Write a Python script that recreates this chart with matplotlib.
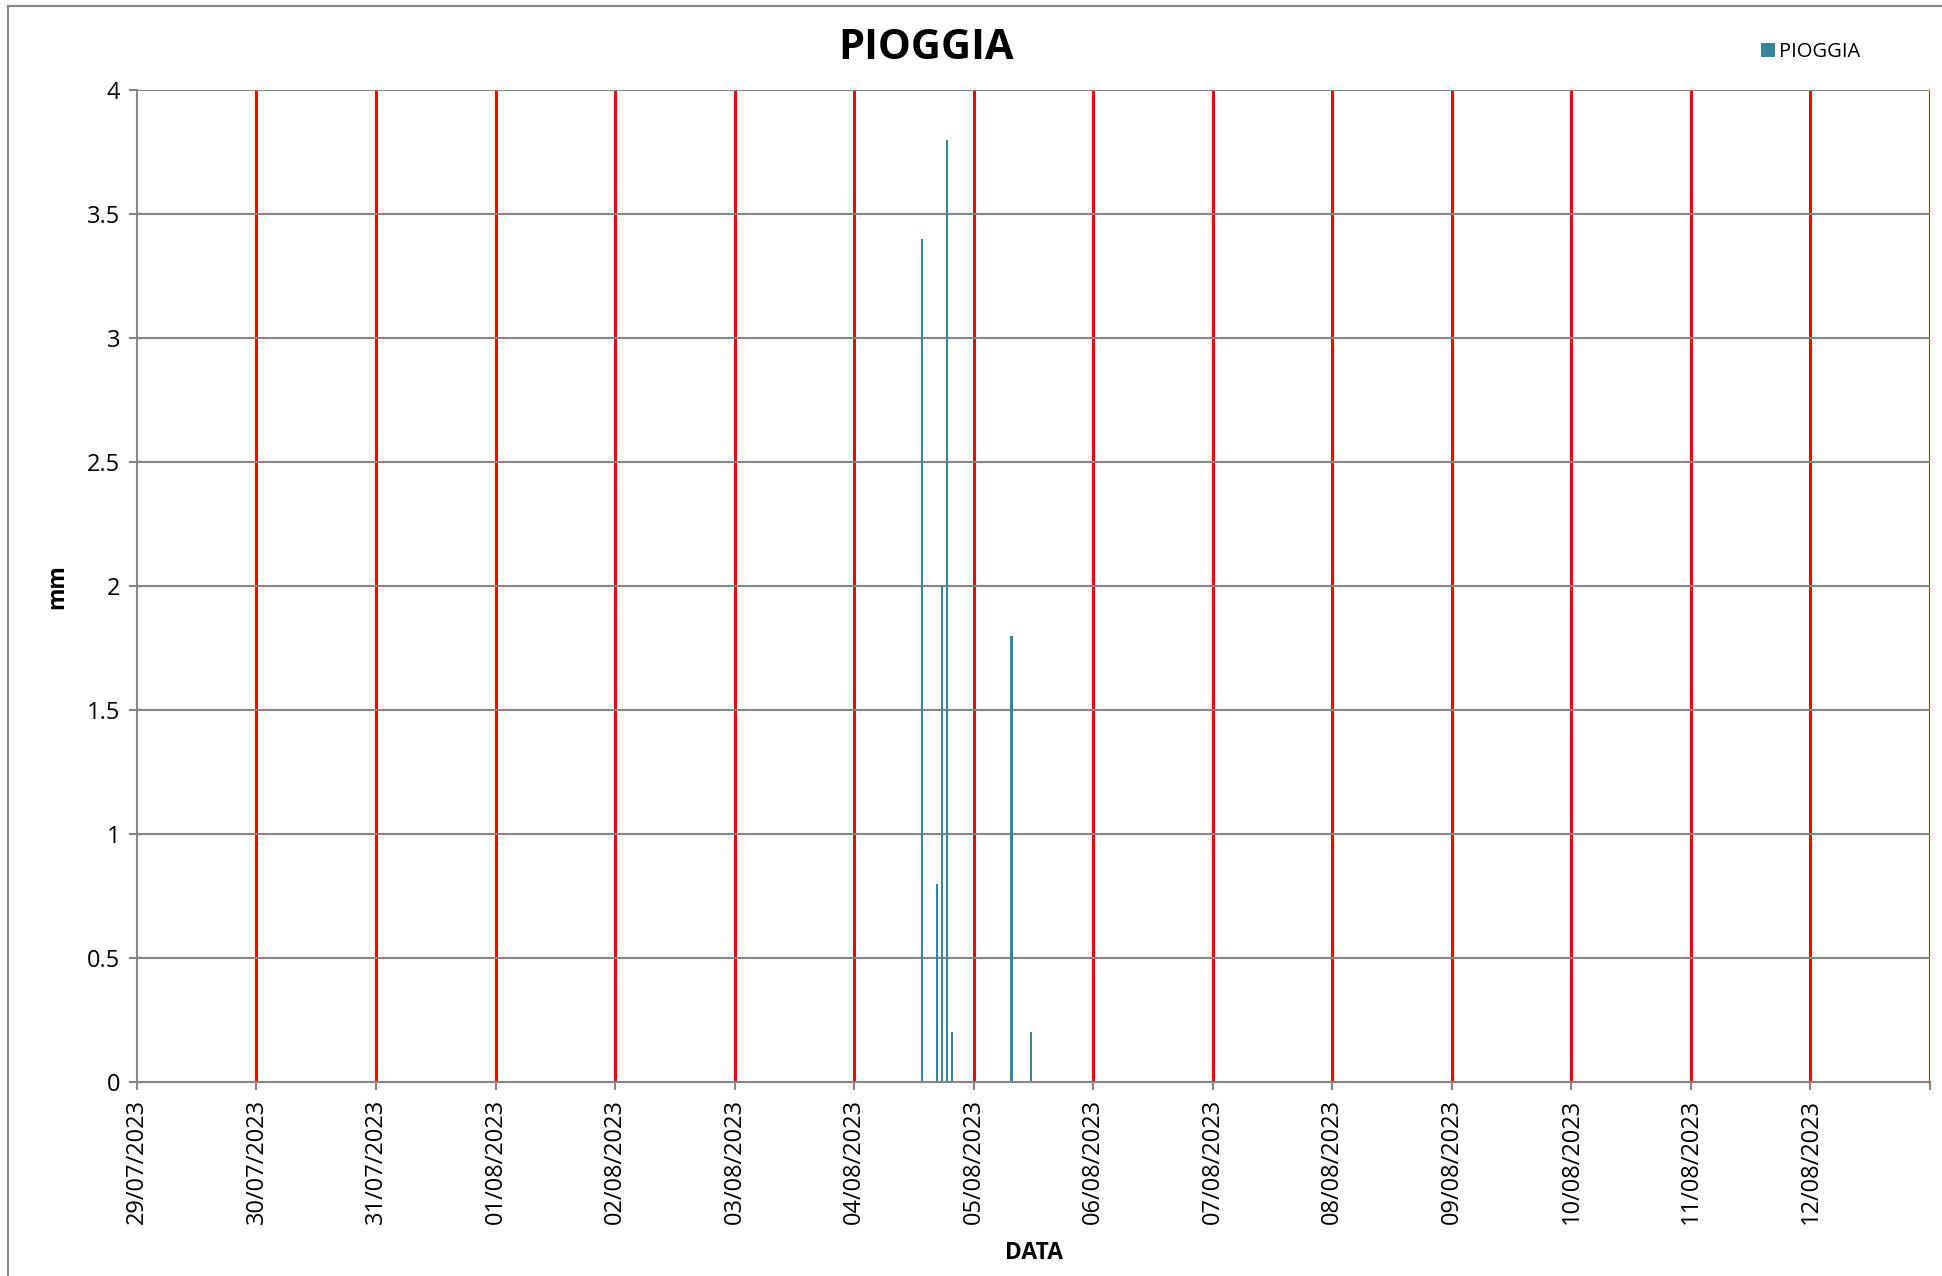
import pandas as pd
import matplotlib
matplotlib.use('Agg')
import matplotlib.pyplot as plt
from matplotlib.lines import Line2D

plt.rcParams['font.family'] = ['Open Sans', 'DejaVu Sans']

# rain readings (mm)
times = ['2023-08-04 13:35', '2023-08-04 16:35', '2023-08-04 17:35', '2023-08-04 18:35',
         '2023-08-04 19:35', '2023-08-05 07:35', '2023-08-05 11:35']
rain = [3.4, 0.8, 2.0, 3.8, 0.2, 1.8, 0.2]

days = ['29/07/2023', '30/07/2023', '31/07/2023', '01/08/2023', '02/08/2023',
        '03/08/2023', '04/08/2023', '05/08/2023', '06/08/2023', '07/08/2023',
        '08/08/2023', '09/08/2023', '10/08/2023', '11/08/2023', '12/08/2023', '13/08/2023']
day_labels = days[:-1] + ['']

yticks = [0, 0.5, 1, 1.5, 2, 2.5, 3, 3.5, 4]

x = pd.to_datetime(times)
day_pos = pd.to_datetime(days, dayfirst=True)

fig = plt.figure(figsize=(19.42, 12.76), dpi=100)
ax = fig.add_axes([0.0705, 0.152, 0.9233, 0.7775])

ax.bar(x, rain, width=0.019, color='#3388a0', label='PIOGGIA', zorder=3)

ax.set_xlim(day_pos[0], day_pos[-1])
ax.set_ylim(0, 4)
ax.set_yticks(yticks)
ax.set_yticklabels(['{:g}'.format(v) for v in yticks])
ax.set_xticks(day_pos)
ax.set_xticklabels(day_labels, rotation=90)

ax.grid(axis='y', color='#868686', linewidth=1.5)
ax.grid(axis='x', color='#ff0000', linewidth=2.2)
ax.set_axisbelow(True)
ax.get_xgridlines()[0].set_visible(False)

for s in ['top', 'right']:
    ax.spines[s].set_visible(False)
for s in ['left', 'bottom']:
    ax.spines[s].set_color('#868686')
    ax.spines[s].set_linewidth(1.5)
    ax.spines[s].set_zorder(4)

ax.tick_params(axis='both', direction='out', length=6, width=1.5, color='#868686',
               labelsize=17, pad=6)

fig.text(1034 / 1942, 1 - 1253 / 1276, 'DATA', fontsize=16.5, fontweight='bold',
         ha='center', va='center')
fig.text(57 / 1942, 1 - 587 / 1276, 'mm', fontsize=16.5, fontweight='bold',
         ha='center', va='center', rotation=90)

fig.text(0.477, 0.962, 'PIOGGIA', fontsize=30, fontweight='bold', ha='center', va='center')

leg = fig.legend(loc='center left', bbox_to_anchor=(0.8975, 0.959), frameon=False,
                 fontsize=14.5, handlelength=0.7, handleheight=0.7, handletextpad=0.2)

# chart area border
fig.add_artist(Line2D([0.0041, 0.0041], [0, 0.9953], color='#868686', linewidth=1.5))
fig.add_artist(Line2D([0.0041, 1], [0.9953, 0.9953], color='#868686', linewidth=1.5))

plt.savefig('out.png', dpi=100)
